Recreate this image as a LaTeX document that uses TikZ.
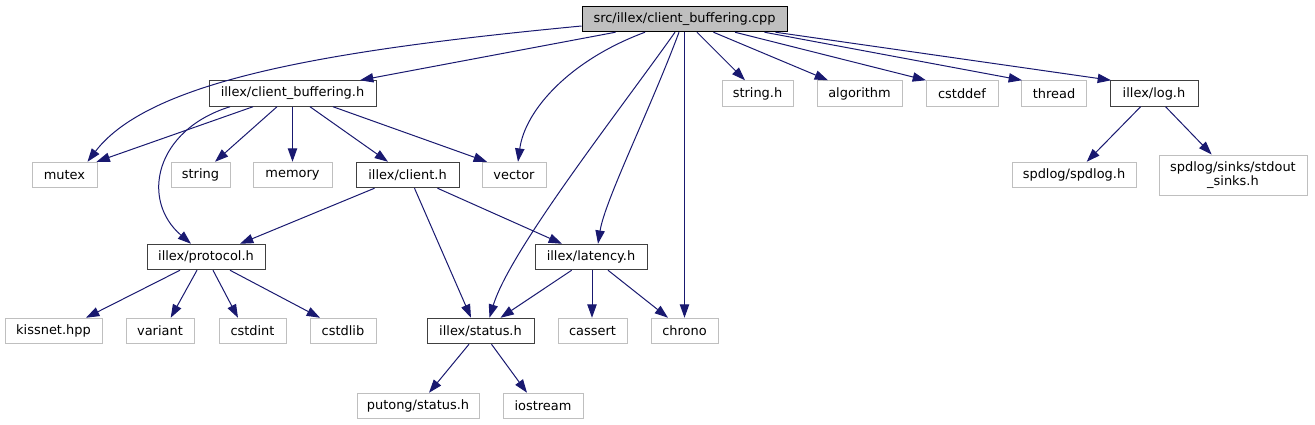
\documentclass[tikz,border=0pt]{standalone}
\usepackage{fontspec}
\setmainfont{DejaVu Sans}
\usetikzlibrary{arrows.meta,calc}
\definecolor{edgeblue}{HTML}{191970}
\definecolor{docborder}{HTML}{404040}
\definecolor{extborder}{HTML}{BFBFBF}
\definecolor{rootfill}{HTML}{BFBFBF}
\tikzset{
  box/.style={draw, line width=0.75pt, inner sep=0pt, minimum height=19.1pt, fill=white,
    font=\fontsize{9.7pt}{10.8pt}\selectfont, align=center},
  rootbox/.style={box, draw=black, fill=rootfill},
  docbox/.style={box, draw=docborder},
  extbox/.style={box, draw=extborder},
  edge/.style={draw=edgeblue, line width=0.75pt, -{Triangle[length=10pt,width=7pt]}, edgeblue}
}
\begin{document}
\begin{tikzpicture}[x=0.75pt,y=-0.75pt]
\useasboundingbox (0,0) rectangle (1315,425);
% row 0
\node[rootbox, minimum width=153.75pt] (root) at (684.5,19) {src/illex/client\_buffering.cpp};
% row 1
\node[docbox, minimum width=125.25pt] (cbh) at (292.5,93.5) {illex/client\_buffering.h};
\node[extbox, minimum width=53.25pt] (stringh) at (757.5,93.5) {string.h};
\node[extbox, minimum width=63.75pt] (algorithm) at (859.5,93.5) {algorithm};
\node[extbox, minimum width=54pt] (cstddef) at (962,93.5) {cstddef};
\node[extbox, minimum width=48.75pt] (thread) at (1054,93.5) {thread};
\node[docbox, minimum width=66pt] (logh) at (1154,93.5) {illex/log.h};
% row 2
\node[extbox, minimum width=48.75pt] (mutex) at (64.5,175) {mutex};
\node[extbox, minimum width=44.25pt] (string) at (200.5,175) {string};
\node[extbox, minimum width=59.25pt] (memory) at (292.5,175) {memory};
\node[docbox, minimum width=77.25pt] (clienth) at (407.5,175) {illex/client.h};
\node[extbox, minimum width=48pt] (vector) at (514,175) {vector};
\node[extbox, minimum width=93pt] (spdlogh) at (1074,175) {spdlog/spdlog.h};
\node[extbox, minimum width=111pt, minimum height=30pt] (sinks) at (1233,175) {spdlog/sinks/stdout\\\_sinks.h};
% row 3
\node[docbox, minimum width=88.5pt] (protocol) at (206,257) {illex/protocol.h};
\node[docbox, minimum width=84pt] (latency) at (591,257) {illex/latency.h};
% row 4
\node[extbox, minimum width=72.75pt] (kissnet) at (53.5,331) {kissnet.hpp};
\node[extbox, minimum width=51pt] (variant) at (160,331) {variant};
\node[extbox, minimum width=50.25pt] (cstdint) at (252.5,331) {cstdint};
\node[extbox, minimum width=49.5pt] (cstdlib) at (343,331) {cstdlib};
\node[docbox, minimum width=80.25pt] (statush) at (480.5,331) {illex/status.h};
\node[extbox, minimum width=51.75pt] (cassert) at (592.5,331) {cassert};
\node[extbox, minimum width=50.25pt] (chrono) at (684.5,331) {chrono};
% row 5
\node[extbox, minimum width=91.5pt] (putong) at (418,406) {putong/status.h};
\node[extbox, minimum width=60pt] (iostream) at (543,406) {iostream};

% edges from root
\draw[edge] ($(root.west)+(0,7)$) .. controls (330,50) and (150,80) .. ($(mutex.north)+(23,0)$);
\draw[edge] ($(root.south)+(-69,0)$) -- ($(cbh.north)+(67.5,0)$);
\draw[edge] ($(root.south)+(-39.5,0)$) .. controls (570,60) and (525,110) .. ($(vector.north)+(4,0)$);
\draw[edge] ($(root.south)+(-9.5,0)$) .. controls (620,110) and (510,250) .. ($(statush.north)+(9,0)$);
\draw[edge] ($(root.south)+(-5.5,0)$) .. controls (650,110) and (605,200) .. ($(latency.north)+(7,0)$);
\draw[edge] (root.south) -- (chrono.north);
\draw[edge] ($(root.south)+(12.5,0)$) -- ($(stringh.north)+(-12.5,0)$);
\draw[edge] ($(root.south)+(29,0)$) -- ($(algorithm.north)+(-31.5,0)$);
\draw[edge] ($(root.south)+(50.5,0)$) -- ($(cstddef.north)+(-36,0)$);
\draw[edge] ($(root.south)+(80,0)$) -- ($(thread.north)+(-32,0)$);
\draw[edge] ($(root.south)+(91,0)$) -- ($(logh.north)+(-43,0)$);

% edges from client_buffering.h
\draw[edge] ($(cbh.south)+(-39.5,0)$) -- ($(mutex.north east)+(-1,0)$);
\draw[edge] ($(cbh.south)+(-62.5,0)$) .. controls (155,130) and (140,200) .. ($(protocol.north)+(-15,0)$);
\draw[edge] ($(cbh.south)+(-15.5,0)$) -- ($(string.north)+(14.5,0)$);
\draw[edge] (cbh.south) -- (memory.north);
\draw[edge] ($(cbh.south)+(17.5,0)$) -- ($(clienth.north)+(-19.5,0)$);
\draw[edge] ($(cbh.south)+(40.5,0)$) -- ($(vector.north)+(-27,0)$);

% edges from client.h
\draw[edge] ($(clienth.south)+(-33,0)$) -- ($(protocol.north)+(34,0)$);
\draw[edge] ($(clienth.south)+(7,0)$) -- ($(statush.north)+(-9.5,0)$);
\draw[edge] ($(clienth.south)+(30,0)$) -- ($(latency.north)+(-29,0)$);

% edges from protocol.h
\draw[edge] ($(protocol.south)+(-26,0)$) -- ($(kissnet.north)+(32.5,0)$);
\draw[edge] ($(protocol.south)+(-9,0)$) -- ($(variant.north)+(10.7,0)$);
\draw[edge] ($(protocol.south)+(7,0)$) -- ($(cstdint.north)+(-14.5,0)$);
\draw[edge] ($(protocol.south)+(24,0)$) -- ($(cstdlib.north)+(-23,0)$);

% edges from latency.h
\draw[edge] ($(latency.south)+(-19.3,0)$) -- ($(statush.north)+(20,0)$);
\draw[edge] ($(latency.south)+(1,0)$) -- ($(cassert.north)+(-0.5,0)$);
\draw[edge] ($(latency.south)+(17,0)$) -- ($(chrono.north)+(-16.5,0)$);

% edges from status.h
\draw[edge] ($(statush.south)+(-11.5,0)$) -- ($(putong.north)+(11,0)$);
\draw[edge] ($(statush.south)+(11,0)$) -- ($(iostream.north)+(-16,0)$);

% edges from log.h
\draw[edge] ($(logh.south)+(-13.4,0)$) -- ($(spdlogh.north)+(12.7,0)$);
\draw[edge] ($(logh.south)+(11.6,0)$) -- ($(sinks.north)+(-21.3,0)$);
\end{tikzpicture}
\end{document}
